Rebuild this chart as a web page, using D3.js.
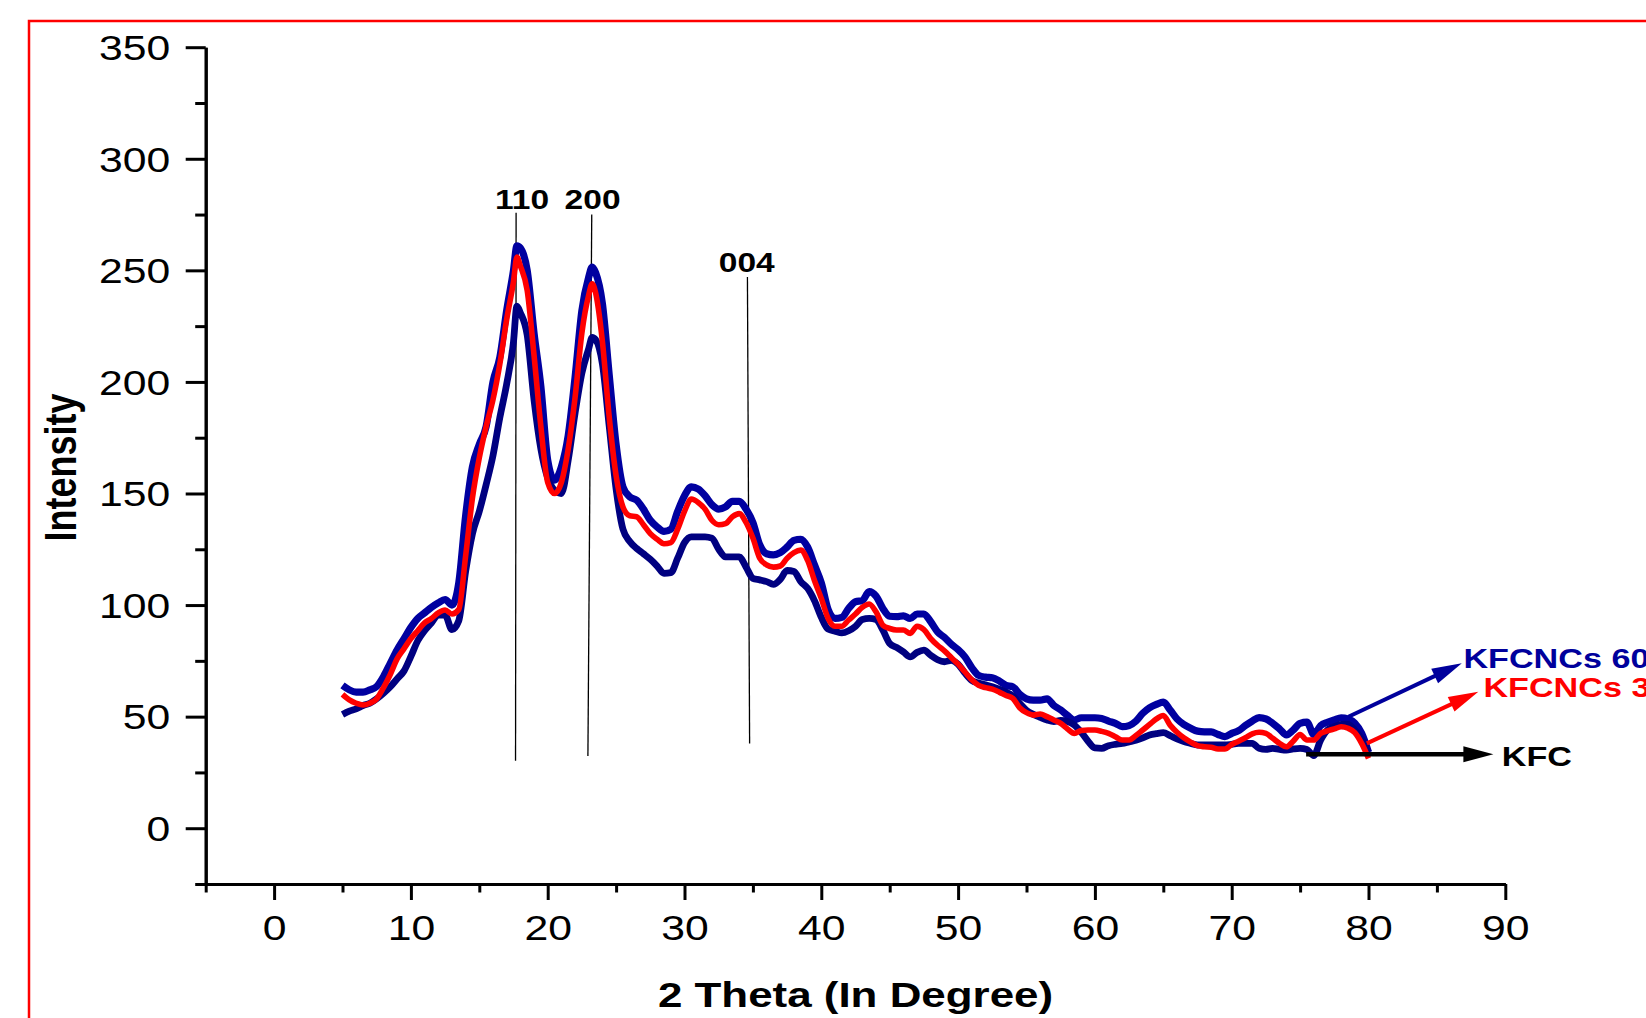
<!DOCTYPE html>
<html>
<head>
<meta charset="utf-8">
<script src="https://cdnjs.cloudflare.com/ajax/libs/d3/7.8.5/d3.min.js"></script>
<style>
body { margin: 0; background: #fff; overflow: hidden; }
svg { display: block; font-family: "Liberation Sans", Arial, sans-serif; }
</style>
</head>
<body>
<div id="chart"></div>
<script>
// 2 theta (degree)
var theta = [5,5.5,6,6.5,7,7.5,8,8.5,9,9.5,
  10,10.5,11,11.5,12,12.5,13,13.5,14,14.5,
  15,15.5,16,16.5,17,17.5,17.75,18,18.5,19,19.5,
  20,20.5,21,21.5,22,22.5,23,23.25,23.5,24,24.5,
  25,25.5,26,26.5,27,27.5,28,28.5,29,29.5,
  30,30.5,31,31.5,32,32.5,33,33.5,34,34.5,
  35,35.5,36,36.5,37,37.5,38,38.5,39,39.5,
  40,40.5,41,41.5,42,42.5,43,43.5,44,44.5,
  45,45.5,46,46.5,47,47.5,48,48.5,49,49.5,
  50,50.5,51,51.5,52,52.5,53,53.5,54,54.5,
  55,55.5,56,56.5,57,57.5,58,58.5,59,59.5,
  60,60.5,61,61.5,62,62.5,63,63.5,64,64.5,
  65,65.5,66,66.5,67,67.5,68,68.5,69,69.5,
  70,70.5,71,71.5,72,72.5,73,73.5,74,74.5,
  75,75.5,76,76.5,77,77.5,78,78.5,79,79.5,
  80];

var kfcncs60 = [64,62,61,61,62,63.5,68,74,80,85,
  90,94,96.5,99,101,102.5,100,110,140,162,
  172,180,200,211,232,250,261,260,250,222,198,
  165,156,162,176,202,232,247,251.5,249,235,203,
  172,153,148.5,147,143,138,135,133,134,142,
  149,153,152,149,145,143,144,146.5,146.5,143,
  137,127,123,122.5,123.5,126,129,129.5,126,118,
  110,98,94,94.5,98.5,101.5,102,106,104,98.5,
  95,94.8,95.2,94,96,96,92.5,88,85.5,82.5,
  80,76.8,72,68.5,67.7,67.4,66,64,63.4,60,
  58,57.4,57.4,58,55,53,50.5,48.5,49.5,49.5,
  49.5,49.2,48,47,45.5,46,48,51.5,54,55.5,
  56.5,53,49,46.5,44.8,43.5,43.2,43.2,42,41,
  42.5,43.7,46,48,49.6,49,47,44.5,41.8,44,
  47,47.5,42,46,47.5,48.5,49.5,49,47,42.5,
  34];

var kfcncs30 = [60,57.5,56,55.2,56,58,63,69,76,80.5,
  85,88.5,92,94,96.5,97.8,96,98,122,148,
  166,180,192,208,228,245,256,252,241,212,180,
  155,150,155,170,193,222,239,244,240,218,184,
  158,144,140,139.6,136,132,129.5,127.5,128,134,
  142,147.5,146,143,138,136,136.5,139.6,141,137,
  130,121,118,117,117.5,121,123.5,124.6,120,111,
  103,94,90.5,90.5,93.3,96,99,100.5,97,91,
  89.5,88.8,88.8,87.3,90.5,89,85,82,79.5,76.5,
  73.5,70,66.5,64,63,62.3,61,59.5,58.2,54,
  51.8,50.7,51.2,50,48.5,47,44.5,42.5,43.8,44,
  44,43.4,42.5,41,39.5,39.5,41.5,44,46.5,49,
  50.5,46.2,43,40.5,38.6,37,36.5,36.3,35.5,35.5,
  37.5,39,40.5,42.3,43,42.5,40.3,38,36.5,39,
  42,39.5,39.5,42.5,43.6,44.5,45.5,44.8,42.8,38,
  31.3];

var kfc = [51,52.5,53.5,55,56,58,60.5,63.4,67,70.5,
  77,84,88.5,92,95.5,95.5,89,93,115,132,
  142,154,167,184,199,218,234,231,221,192,170,
  157,151.5,150,165,186,204,215,220,219,208,180,
  152,134,128.5,125.4,123,120.5,117.5,114.2,114.5,121,
  128,130.6,130.6,130.6,130,125,121.6,121.6,121.6,117,
  112,111.3,110.5,109.3,111.5,115.5,115,110.5,107.5,102,
  94.5,89.2,88.3,87.5,88.5,90.5,93.5,94,93.5,88.8,
  82.8,81,79,76.8,78.8,79.8,77.5,75.5,74.6,75.2,
  73.5,69.5,66.2,65.1,64.3,63.4,62.3,61,59.3,56,
  52.8,51,49.7,48.5,47.8,48.3,47.8,46.2,43,39,
  36,35.8,37,37.6,38,38.7,39.4,40.5,41.8,42.4,
  42.8,41.5,40,38.8,38,37.3,37.3,37.3,37.3,37.3,
  37.6,38,38,38,35.8,35.3,35.8,35.3,35,35.5,
  35.8,35.3,32.5,39.5,44,45.5,46.5,46.5,44,40,
  34];

var xTicks = [0,10,20,30,40,50,60,70,80,90];
var xMinorTicks = [-5,5,15,25,35,45,55,65,75,85];
var yTicks = [0,50,100,150,200,250,300,350];
var yMinorTicks = [-25,25,75,125,175,225,275,325];

// crystal plane markers
var peakLabels = ["110", "200", "004"];
var peakTop = [[17.69,275.8],[23.22,275],[34.6,247]];
var peakBottom = [[17.65,30.2],[22.94,32.4],[34.76,38]];
var peakTextPos = [[18.13,277.3],[23.28,277.3],[34.55,249.3]];

// legend arrows
var arrowNames = ["KFCNCs 60", "KFCNCs 30", "KFC"];
var arrowColors = ["#00009c", "#ff0000", "#000000"];
var arrowFrom = [[78.53,49.96],[79.88,38.0],[75.44,33.2]];
var arrowTo = [[86.82,73.9],[88.03,61.2],[89.13,33.2]];
var arrowTextPos = [[86.94,71.6],[88.4,58.9],[89.74,28.0]];

var width = 1646, height = 1018;
var margin = {top: 47.2, right: 1646 - 1505.3, bottom: 1018 - 884, left: 205.7};
var SX = 1.22; // the original figure is stretched horizontally

var svg = d3.select("#chart").append("svg")
  .attr("width", width)
  .attr("height", height);

svg.append("rect").attr("width", width).attr("height", height).attr("fill", "#fff");

// red frame, runs off the right and bottom edges
svg.append("rect")
  .attr("x", 29).attr("y", 21)
  .attr("width", 2000).attr("height", 2000)
  .attr("fill", "none")
  .attr("stroke", "#ff0000")
  .attr("stroke-width", 2.5);

var x = d3.scaleLinear().domain([-5, 90]).range([margin.left, width - margin.right]);
var y = d3.scaleLinear().domain([-25, 350]).range([height - margin.bottom, margin.top]);

// axes
function styleAxis(g) {
  g.attr("font-size", null).attr("font-family", null);
  g.select(".domain").attr("stroke", "#000").attr("stroke-width", 3);
  g.selectAll(".tick line").attr("stroke", "#000").attr("stroke-width", 3);
}

var gx = svg.append("g").attr("transform", "translate(0," + y(-25) + ")");
gx.call(d3.axisBottom(x).tickValues(xMinorTicks).tickSize(8.5).tickSizeOuter(0).tickFormat(""))
  .call(styleAxis);
var gx2 = svg.append("g").attr("transform", "translate(0," + y(-25) + ")");
gx2.call(d3.axisBottom(x).tickValues(xTicks).tickSize(16).tickSizeOuter(0))
  .call(styleAxis);
gx2.selectAll(".tick text")
  .attr("y", 0).attr("dy", null)
  .attr("transform", "translate(0,56) scale(" + SX + ",1)")
  .style("font-size", "35px")
  .attr("fill", "#000");

var gy = svg.append("g").attr("transform", "translate(" + x(-5) + ",0)");
gy.call(d3.axisLeft(y).tickValues(yMinorTicks).tickSize(10.5).tickSizeOuter(0).tickFormat(""))
  .call(styleAxis);
var gy2 = svg.append("g").attr("transform", "translate(" + x(-5) + ",0)");
gy2.call(d3.axisLeft(y).tickValues(yTicks).tickSize(20).tickSizeOuter(0))
  .call(styleAxis);
gy2.selectAll(".tick text")
  .attr("x", 0).attr("dy", "0.35em")
  .attr("text-anchor", "end")
  .attr("transform", "translate(-35.5,0) scale(" + SX + ",1)")
  .style("font-size", "35px")
  .attr("fill", "#000");

// axis titles
svg.append("text")
  .attr("transform", "translate(855.5,1007) scale(" + SX + ",1)")
  .attr("text-anchor", "middle")
  .style("font-size", "36px")
  .style("font-weight", "bold")
  .text("2 Theta (In Degree)");

svg.append("text")
  .attr("transform", "translate(76,467.5) scale(" + SX + ",1) rotate(-90)")
  .attr("text-anchor", "middle")
  .style("font-size", "36px")
  .style("font-weight", "bold")
  .text("Intensity");

// peak marker lines
peakLabels.forEach(function(lbl, i) {
  svg.append("line")
    .attr("x1", x(peakTop[i][0])).attr("y1", y(peakTop[i][1]))
    .attr("x2", x(peakBottom[i][0])).attr("y2", y(peakBottom[i][1]))
    .attr("stroke", "#000")
    .attr("stroke-width", 1.3);
  svg.append("text")
    .attr("transform", "translate(" + x(peakTextPos[i][0]) + "," + y(peakTextPos[i][1]) + ") scale(" + SX + ",1)")
    .attr("text-anchor", "middle")
    .style("font-size", "27.5px")
    .style("font-weight", "bold")
    .text(lbl);
});

// curves
var rows = theta.map(function(t, i) {
  return {t: t, a: kfcncs60[i], b: kfcncs30[i], c: kfc[i]};
});

var seriesList = [
  {key: "a", color: "#0000a0", w: 7.2},
  {key: "c", color: "#000080", w: 6.8},
  {key: "b", color: "#ff0000", w: 5.6}
];

seriesList.forEach(function(s) {
  var line = d3.line()
    .x(function(d) { return x(d.t); })
    .y(function(d) { return y(d[s.key]); })
    .curve(d3.curveMonotoneX);
  svg.append("path")
    .datum(rows)
    .attr("d", line)
    .attr("fill", "none")
    .attr("stroke", s.color)
    .attr("stroke-width", s.w)
    .attr("stroke-linejoin", "round")
    .attr("stroke-linecap", "butt");
});

// arrows + labels
arrowNames.forEach(function(name, i) {
  var x1 = x(arrowFrom[i][0]), y1 = y(arrowFrom[i][1]);
  var x2 = x(arrowTo[i][0]), y2 = y(arrowTo[i][1]);
  var dx = x2 - x1, dy = y2 - y1, len = Math.sqrt(dx * dx + dy * dy);
  var ux = dx / len, uy = dy / len, nx = -uy, ny = ux;
  var headL = 30, headW = 8;
  svg.append("line")
    .attr("x1", x1).attr("y1", y1)
    .attr("x2", x2 - ux * (headL - 4)).attr("y2", y2 - uy * (headL - 4))
    .attr("stroke", arrowColors[i])
    .attr("stroke-width", i == 2 ? 4.5 : 4);
  var bx = x2 - ux * headL, by = y2 - uy * headL;
  svg.append("path")
    .attr("d", "M" + x2 + "," + y2 +
      "L" + (bx + nx * headW) + "," + (by + ny * headW) +
      "L" + (bx - nx * headW) + "," + (by - ny * headW) + "Z")
    .attr("fill", arrowColors[i]);
  svg.append("text")
    .attr("transform", "translate(" + x(arrowTextPos[i][0]) + "," + y(arrowTextPos[i][1]) + ") scale(" + SX + ",1)")
    .style("font-size", "28px")
    .style("font-weight", "bold")
    .attr("fill", arrowColors[i])
    .text(name);
});
</script>
</body>
</html>
